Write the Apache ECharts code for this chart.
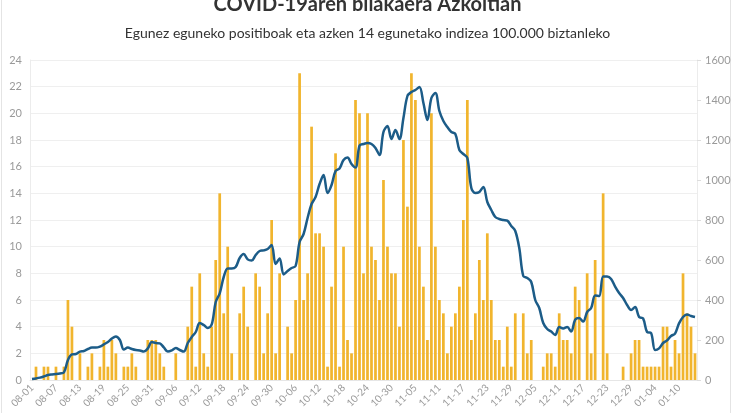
<!DOCTYPE html>
<html>
<head>
<meta charset="utf-8">
<title>COVID-19aren bilakaera Azkoitian</title>
<script src="https://cdn.jsdelivr.net/npm/echarts@6/dist/echarts.min.js"></script>
<style>
	html, body { margin: 0; padding: 0; background: #fff; }
	#chart { width: 735px; height: 413px; }
</style>
</head>
<body>
<div id="chart"></div>
<script>
	// egunak: 08-01 -> 01-14
	const days = [
		'08-01','08-02','08-03','08-04','08-05','08-06','08-07','08-08','08-09','08-10','08-11','08-12','08-13','08-14','08-15','08-16',
		'08-17','08-18','08-19','08-20','08-21','08-22','08-23','08-24','08-25','08-26','08-27','08-28','08-29','08-30','08-31',
		'09-01','09-02','09-03','09-04','09-05','09-06','09-07','09-08','09-09','09-10','09-11','09-12','09-13','09-14','09-15',
		'09-16','09-17','09-18','09-19','09-20','09-21','09-22','09-23','09-24','09-25','09-26','09-27','09-28','09-29','09-30',
		'10-01','10-02','10-03','10-04','10-05','10-06','10-07','10-08','10-09','10-10','10-11','10-12','10-13','10-14','10-15','10-16',
		'10-17','10-18','10-19','10-20','10-21','10-22','10-23','10-24','10-25','10-26','10-27','10-28','10-29','10-30','10-31',
		'11-01','11-02','11-03','11-04','11-05','11-06','11-07','11-08','11-09','11-10','11-11','11-12','11-13','11-14','11-15',
		'11-16','11-17','11-18','11-19','11-20','11-21','11-22','11-23','11-24','11-25','11-26','11-27','11-28','11-29','11-30',
		'12-01','12-02','12-03','12-04','12-05','12-06','12-07','12-08','12-09','12-10','12-11','12-12','12-13','12-14','12-15','12-16',
		'12-17','12-18','12-19','12-20','12-21','12-22','12-23','12-24','12-25','12-26','12-27','12-28','12-29','12-30','12-31',
		'01-01','01-02','01-03','01-04','01-05','01-06','01-07','01-08','01-09','01-10','01-11','01-12','01-13','01-14'
	]

	// egunez eguneko positiboak
	const positives = [
		0,1,0,1,1,0,1,0,1,6,
		4,0,2,0,1,2,0,1,3,1,
		3,2,0,1,1,2,1,0,0,3,
		3,3,2,1,0,0,2,0,0,4,
		7,1,8,2,1,4,9,14,5,10,
		2,0,5,7,4,0,8,7,2,5,
		12,2,8,0,4,2,6,23,6,8,
		19,11,11,10,1,7,17,1,10,3,
		2,21,20,8,20,10,9,6,15,10,
		8,8,4,18,13,23,21,10,7,3,
		20,10,6,5,2,4,5,7,12,21,
		3,5,9,6,11,6,3,3,1,4,
		1,5,0,5,2,3,0,0,1,2,
		2,1,5,3,3,2,7,6,0,8,
		2,9,0,14,2,0,0,0,1,0,
		2,3,3,1,1,1,1,1,4,4,
		1,3,2,8,5,4,2
	]

	// azken 14 egunetako indizea 100.000 biztanleko
	const incidence = [
		5,8,12,18,25,28,30,33,38,100,
		128,130,142,145,155,162,162,167,178,190,
		208,218,200,152,162,155,150,148,142,158,
		190,185,183,163,142,148,160,150,142,185,
		215,240,285,275,260,278,390,433,515,558,
		558,565,610,630,603,597,625,645,648,655,
		675,580,608,528,545,560,570,690,730,810,
		880,915,980,1025,935,975,1045,1058,1100,1113,
		1080,1062,1172,1180,1185,1180,1160,1125,1240,1270,
		1205,1250,1205,1310,1420,1440,1450,1465,1385,1300,
		1410,1435,1345,1295,1265,1240,1230,1150,1130,1110,
		960,935,940,965,890,850,815,805,800,797,
		770,745,660,520,510,490,400,360,285,255,
		242,225,265,258,265,242,302,310,292,340,
		360,422,420,517,517,505,467,435,410,375,
		350,365,315,308,240,235,150,158,185,198,
		220,232,283,315,328,320,315
	]

	let mychart = echarts.init(document.getElementById('chart'))
	let option = {
		animation: false,
		textStyle: { fontFamily: 'Lato' },
		graphic: [{
			type: 'rect',
			shape: { x: 1.5, y: -5, width: 729, height: 430 },
			style: { fill: 'none', stroke: '#e4e4e4', lineWidth: 1 }
		}],
		title: [{
			text: 'COVID-19aren bilakaera Azkoitian',
			left: 'center',
			top: -10,
			textStyle: { fontSize: 20, fontWeight: 'bold', color: '#333', fontFamily: 'Lato' }
		}, {
			text: 'Egunez eguneko positiboak eta azken 14 egunetako indizea 100.000 biztanleko',
			left: 'center',
			top: 21,
			textStyle: { fontSize: 14, fontWeight: 'normal', color: '#333', fontFamily: 'Lato' }
		}],
		grid: { left: 30, right: 38, top: 60, bottom: 33 },
		xAxis: {
			type: 'category',
			data: days,
			axisLine: { lineStyle: { color: '#e6e6e6' } },
			axisTick: { show: false },
			axisLabel: { interval: 5, rotate: 45, fontSize: 10, color: '#9a9a9a', margin: 6 }
		},
		yAxis: [{
			type: 'value',
			min: 0,
			max: 24,
			interval: 2,
			axisLine: { show: true, lineStyle: { color: '#ececec' } },
			axisTick: { show: false },
			axisLabel: { fontSize: 11, color: '#9a9a9a', margin: 8 },
			splitLine: { lineStyle: { color: '#efefef' } }
		}, {
			type: 'value',
			min: 0,
			max: 1600,
			interval: 200,
			position: 'right',
			axisLine: { show: true, lineStyle: { color: '#ececec' } },
			axisTick: { show: true, length: 4, lineStyle: { color: '#dddddd' } },
			axisLabel: { fontSize: 11, color: '#9a9a9a', margin: 8, formatter: v => String(v) },
			splitLine: { show: false }
		}],
		series: [{
			name: 'Positiboak',
			type: 'bar',
			data: positives,
			barCategoryGap: '32%',
			itemStyle: { color: '#f1b52e' }
		}, {
			name: 'Indizea',
			type: 'line',
			yAxisIndex: 1,
			data: incidence,
			smooth: 0.35,
			symbol: 'none',
			lineStyle: { color: '#1c5c88', width: 2.5 }
		}]
	}
	mychart.setOption(option)
</script>
</body>
</html>
